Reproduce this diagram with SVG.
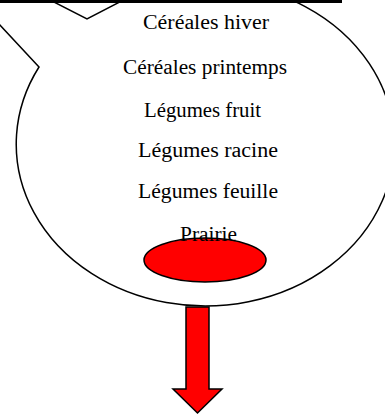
<svg xmlns="http://www.w3.org/2000/svg" width="385" height="419" viewBox="0 0 385 419">
<style>
.lbl{font-family:"Liberation Serif","DejaVu Serif",serif;font-size:20px;fill:#000}
.ln{stroke:#000;stroke-width:1.5;stroke-linejoin:miter}
</style>
<rect width="385" height="419" fill="#fff"/>
<g id="bubble">
<path class="ln" fill="#fff" d="M 39,67 L -10,14.4 L -10,-10 L 30.5,-10 L 87,19 L 137,-7 A 189 162 0 1 1 39,67 Z"/>
</g>
<rect id="topbar" x="0" y="0" width="342" height="3" fill="#000"/>
<g id="spot">
<ellipse class="ln" cx="205" cy="260" rx="61" ry="22" fill="#f00" stroke-width="2"/>
</g>
<g id="labels">
<text class="lbl" x="143" y="29" textLength="126" lengthAdjust="spacingAndGlyphs">Céréales hiver</text>
<text class="lbl" x="123" y="74" textLength="164" lengthAdjust="spacingAndGlyphs">Céréales printemps</text>
<text class="lbl" x="144" y="117" textLength="117" lengthAdjust="spacingAndGlyphs">Légumes fruit</text>
<text class="lbl" x="138" y="157" textLength="140" lengthAdjust="spacingAndGlyphs">Légumes racine</text>
<text class="lbl" x="138" y="198" textLength="140" lengthAdjust="spacingAndGlyphs">Légumes feuille</text>
<text class="lbl" x="180" y="241" textLength="57" lengthAdjust="spacingAndGlyphs">Prairie</text>
</g>
<g id="connectors">
<polygon class="ln" fill="#f00" points="186,307 209,307 209,389 222,389 197.5,413 173,389 186,389"/>
</g>
</svg>
